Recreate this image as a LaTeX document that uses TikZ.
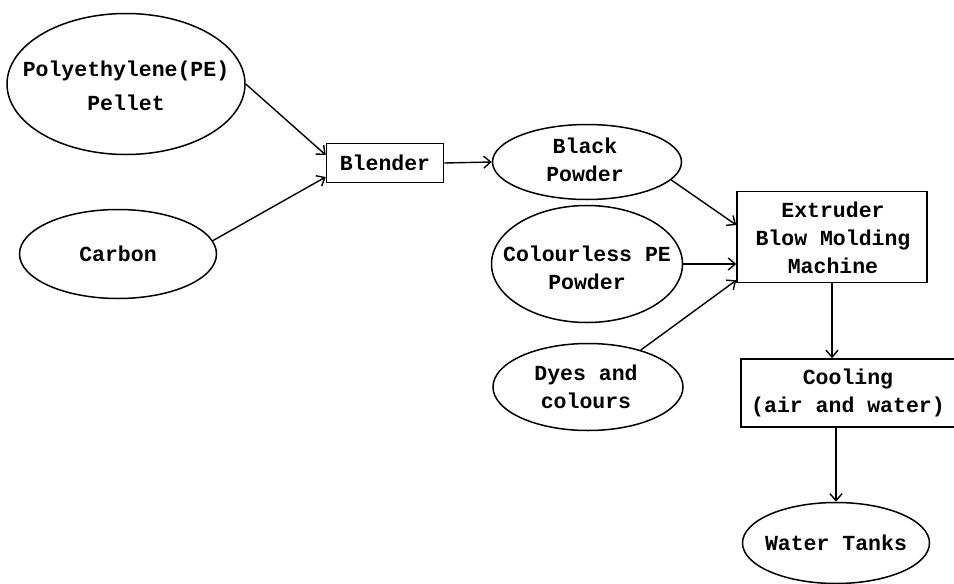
\documentclass[tikz,border=0pt]{standalone}
\usepackage{fontspec}
\newfontfamily\tw{Liberation Mono}
\usetikzlibrary{shapes.geometric,arrows.meta,calc}
\tikzset{
  oval/.style={draw, ellipse, line width=1.5pt, inner sep=0pt},
  boxx/.style={draw, rectangle, line width=1.5pt, inner sep=0pt},
  txt/.style={align=center, inner sep=0pt, font=\tw\bfseries\fontsize{21.5}{28}\selectfont},
  arr/.style={line width=1.4pt, -{Straight Barb[length=7pt,width=12pt,line width=1.4pt]}}
}
\begin{document}
\begin{tikzpicture}[x=1pt,y=-1pt]
\useasboundingbox (0,0) rectangle (954,584);
\clip (0,0) rectangle (954,584);
% shapes
\node[oval, minimum width=238, minimum height=141] (pe) at (126,84) {};
\node[txt] (pet) at (126,86) {Polyethylene(PE)\\[6pt]Pellet};
\node[oval, minimum width=197, minimum height=89] (carbon) at (118,254) {};
\node[txt] (cat) at (118,254) {Carbon};
\node[boxx, minimum width=117, minimum height=39] (blender) at (385,163) {};
\node[txt] (blt) at (385,163) {Blender};
\node[oval, minimum width=189, minimum height=75] (black) at (587,162) {};
\node[txt] (blkt) at (585,160) {Black\\Powder};
\node[oval, minimum width=191, minimum height=117] (colourless) at (587,264) {};
\node[txt] (colt) at (587,268) {Colourless PE\\Powder};
\node[oval, minimum width=190, minimum height=87] (dyes) at (588,387) {};
\node[txt] (dyt) at (586,387) {Dyes and\\colours};
\node[boxx, minimum width=190, minimum height=91] (extruder) at (832,237) {};
\node[txt] (ext) at (833,238) {Extruder\\Blow Molding\\Machine};
\node[boxx, minimum width=270, minimum height=68] (cooling) at (876,393) {};
\node[txt] (coolt) at (848,393) {Cooling\\(air and water)};
\node[oval, minimum width=187, minimum height=81] (water) at (836,543) {};
\node[txt] (wat) at (836,543) {Water Tanks};
% connectors
\draw[arr] (pe.east) -- ($(blender.west)+(0,-8)$);
\draw[arr] (carbon.8) -- ($(blender.west)+(0,14)$);
\draw[arr] (blender.east) -- (black.west);
\draw[arr] (black.-12) -- ($(extruder.west)+(0,-12)$);
\draw[arr] (colourless.east) -- (colourless.east -| extruder.west);
\draw[arr] (dyes.35) -- ($(extruder.south west)+(0,-3)$);
\draw[arr] (extruder.south) -- (extruder.south |- cooling.north);
\draw[arr] (water.north |- cooling.south) -- (water.north);
\end{tikzpicture}
\end{document}
